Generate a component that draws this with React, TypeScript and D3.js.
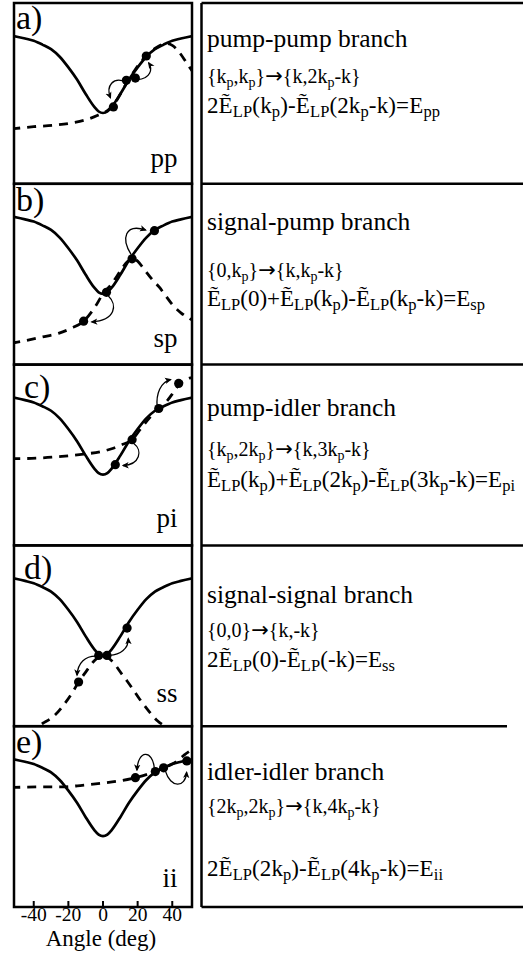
import React from 'react';
import * as d3 from 'd3';

// ---------- data ----------
const angleTicks = [-40, -20, 0, 20, 40];
const axisTitle = 'Angle (deg)';

// lower-polariton dispersion (solid curve), arbitrary energy units
const lpAngles = [-53, -45, -40, -35, -30, -25, -20, -15, -10, -5, -2.5, 0, 2.5, 5, 10, 15, 20, 25, 30, 35, 40, 45, 53];
const lpEnergy = [1.02, 0.98, 0.95, 0.9, 0.84, 0.74, 0.6, 0.44, 0.25, 0.08, 0.02, 0, 0.02, 0.08, 0.25, 0.44, 0.6, 0.74, 0.84, 0.9, 0.95, 0.98, 1.02];

// dashed (idler) curves, one per panel
const ppDashAngles = [-53, -40, -28, -18, -10, -3, 3, 8, 13, 18, 24, 30, 36.5, 40, 44, 48, 53];
const ppDashEnergy = [-0.21, -0.18, -0.16, -0.13, -0.09, -0.03, 0.04, 0.17, 0.37, 0.55, 0.73, 0.85, 0.915, 0.89, 0.8, 0.67, 0.5];
const spDashAngles = [-53, -47.8, -35.3, -25.7, -18, -11.2, -4.5, 0, 5, 10, 14, 17, 20, 23.5, 28, 32.4, 36, 40, 45, 49.5, 53];
const spDashEnergy = [-0.65, -0.63, -0.57, -0.52, -0.45, -0.36, -0.17, 0.0, 0.13, 0.3, 0.42, 0.46, 0.43, 0.33, 0.2, 0.09, -0.02, -0.14, -0.25, -0.32, -0.36];
const piDashAngles = [-53, -49.8, -35.3, -23.7, -11.2, -1.6, 5, 10.5, 16.8, 22, 27, 32.2, 37, 40.6, 43.7, 47, 50, 53];
const piDashEnergy = [0.21, 0.21, 0.22, 0.24, 0.27, 0.3, 0.34, 0.39, 0.46, 0.61, 0.75, 0.87, 0.97, 1.08, 1.18, 1.24, 1.27, 1.28];
const ssDashAngles = [-53, -40, -34.5, -28, -23, -18, -14.1, -10, -5, 0, 5, 11, 14, 18, 21, 26, 31.4, 40, 53];
const ssDashEnergy = [-1.0, -0.96, -0.89, -0.79, -0.66, -0.5, -0.35, -0.22, -0.07, 0, -0.07, -0.25, -0.34, -0.47, -0.57, -0.72, -0.86, -0.96, -1.0];
const iiDashAngles = [-53, -35, -23, -12, 0, 10, 18.7, 25, 30.2, 35, 40, 44, 47, 53];
const iiDashEnergy = [0.64, 0.65, 0.65, 0.67, 0.7, 0.73, 0.77, 0.81, 0.85, 0.9, 0.95, 1.01, 1.07, 1.16];

// polariton states (dots)
const ppDotAngles = [6.0, 13.5, 18.7, 25.0];
const ppDotEnergy = [0.08, 0.43, 0.46, 0.75];
const spDotAngles = [2.0, 16.8, 29.7, -11.2];
const spDotEnergy = [0.02, 0.46, 0.83, -0.36];
const piDotAngles = [7.1, 16.8, 32.2, 43.7];
const piDotEnergy = [0.13, 0.46, 0.87, 1.2];
const ssDotAngles = [-2.5, 2.3, 13.9, -14.1];
const ssDotEnergy = [0, 0, 0.36, -0.35];
const iiDotAngles = [18.7, 30.2, 35.0, 48.4];
const iiDotEnergy = [0.77, 0.85, 0.9, 0.99];

// scattering arrows: [angle, energy] for start, control 1, control 2, end
const ppArrows = [
  [[13.1, 0.41], [6, 0.48], [1.5, 0.36], [4.3, 0.2]],
  [[19.8, 0.44], [27.5, 0.45], [28.8, 0.58], [26.4, 0.66]],
];
const spArrows = [
  [[16.2, 0.52], [10.5, 0.72], [12.5, 0.93], [24.6, 0.84]],
  [[3.1, -0.03], [8.2, -0.14], [7.7, -0.35], [-6.5, -0.37]],
];
const piArrows = [
  [[17.8, 0.41], [23, 0.32], [21.5, 0.13], [11.6, 0.12]],
  [[31.3, 0.89], [30.5, 1.06], [33.3, 1.22], [39, 1.25]],
];
const ssArrows = [
  [[-4.2, -0.01], [-10, -0.01], [-14.5, -0.09], [-15, -0.26]],
  [[3.8, 0], [10, 0.01], [14.8, 0.09], [14.6, 0.22]],
];
const iiArrows = [
  [[29.6, 0.9], [28.6, 1.14], [20.2, 1.14], [19.6, 0.87]],
  [[36.0, 0.86], [39, 0.63], [47.6, 0.63], [48.3, 0.84]],
];

const panelLetters = ['a)', 'b)', 'c)', 'd)', 'e)'];
const panelCodes = ['pp', 'sp', 'pi', 'ss', 'ii'];
const branchTitles = ['pump-pump branch', 'signal-pump branch', 'pump-idler branch', 'signal-signal branch', 'idler-idler branch'];
const processLines = [
  '{k_{p},k_{p}}→{k,2k_{p}-k}',
  '{0,k_{p}}→{k,k_{p}-k}',
  '{k_{p},2k_{p}}→{k,3k_{p}-k}',
  '{0,0}→{k,-k}',
  '{2k_{p},2k_{p}}→{k,4k_{p}-k}',
];
const energyLines = [
  '2Ẽ_{LP}(k_{p})-Ẽ_{LP}(2k_{p}-k)=E_{pp}',
  'Ẽ_{LP}(0)+Ẽ_{LP}(k_{p})-Ẽ_{LP}(k_{p}-k)=E_{sp}',
  'Ẽ_{LP}(k_{p})+Ẽ_{LP}(2k_{p})-Ẽ_{LP}(3k_{p}-k)=E_{pi}',
  '2Ẽ_{LP}(0)-Ẽ_{LP}(-k)=E_{ss}',
  '2Ẽ_{LP}(2k_{p})-Ẽ_{LP}(4k_{p}-k)=E_{ii}',
];

// ---------- layout ----------
const W = 523;
const H = 956;
const LX0 = 14;
const LX1 = 192;
const RX0 = 201.5;
const TOP = 3;
const PH = 180.8;
const FONT = 'Liberation Serif, serif';
const ARROW_FONT = 'DejaVu Sans, sans-serif';
const letterPos = [[16, 29], [16, 210.5], [24, 397.5], [24, 578.5], [16, 753]];
const codeBase = [167, 346.5, 526.5, 701.5, 886.5];
const titleBase = [47, 230, 416, 602.5, 780];
const procBase = [83, 277, 455.5, 637, 813];
const energyBase = [113, 306, 486.5, 666.5, 876];
const energyWidth = [233, 278, 308, 188, 236];
const dividerEnd = [W, W, W, 507];

const panels = [
  { da: ppDashAngles, de: ppDashEnergy, pa: ppDotAngles, pe: ppDotEnergy, arrows: ppArrows },
  { da: spDashAngles, de: spDashEnergy, pa: spDotAngles, pe: spDotEnergy, arrows: spArrows },
  { da: piDashAngles, de: piDashEnergy, pa: piDotAngles, pe: piDotEnergy, arrows: piArrows },
  { da: ssDashAngles, de: ssDashEnergy, pa: ssDotAngles, pe: ssDotEnergy, arrows: ssArrows },
  { da: iiDashAngles, de: iiDashEnergy, pa: iiDotAngles, pe: iiDotEnergy, arrows: iiArrows },
];

type Seg = { t: string; kind: 'n' | 'sub' | 'sym' };

function parseRich(s: string): Seg[] {
  const out: Seg[] = [];
  let buf = '';
  let i = 0;
  const flush = () => {
    if (buf) out.push({ t: buf, kind: 'n' });
    buf = '';
  };
  while (i < s.length) {
    if (s[i] === '_' && s[i + 1] === '{') {
      flush();
      const j = s.indexOf('}', i + 2);
      out.push({ t: s.slice(i + 2, j), kind: 'sub' });
      i = j + 1;
    } else if (s[i] === '→') {
      flush();
      out.push({ t: '→', kind: 'sym' });
      i += 1;
    } else {
      buf += s[i];
      i += 1;
    }
  }
  flush();
  return out;
}

function Rich({ s, x, y, size, subSize, shift, width }: { s: string; x: number; y: number; size: number; subSize: number; shift: number; width?: number }) {
  const segs = parseRich(s);
  let prevSub = false;
  const extra = width ? { textLength: width, lengthAdjust: 'spacing' } : {};
  return (
    <text x={x} y={y} style={{ fontFamily: FONT }} fontSize={size} fill="#000" {...extra}>
      {segs.map((seg, k) => {
        const isSub = seg.kind === 'sub';
        let dy = 0;
        if (isSub && !prevSub) dy = shift;
        if (!isSub && prevSub) dy = -shift;
        prevSub = isSub;
        if (seg.kind === 'sym') {
          return (
            <tspan key={k} dy={dy} fontSize={size * 1.05} style={{ fontFamily: ARROW_FONT }}>
              {seg.t}
            </tspan>
          );
        }
        return (
          <tspan key={k} dy={dy} fontSize={isSub ? subSize : size}>
            {seg.t}
          </tspan>
        );
      })}
    </text>
  );
}

export default function App() {
  const x = d3.scaleLinear().domain([-51.4, 51.4]).range([LX0, LX1]);
  const ts = { fontFamily: FONT };

  return (
    <svg width={W} height={H} style={{ position: 'absolute', left: 0, top: 0, background: '#fff', fontFamily: FONT }}>
      <defs>
        <marker id="ah" viewBox="0 0 10 10" refX="8" refY="5" markerWidth="7" markerHeight="7" markerUnits="userSpaceOnUse" orient="auto">
          <path d="M0,0.5 L10,5 L0,9.5 L2.5,5 z" fill="#000" />
        </marker>
        {panels.map((_, i) => (
          <clipPath id={`clip${i}`} key={i}>
            <rect x={LX0} y={TOP + i * PH} width={LX1 - LX0} height={PH} />
          </clipPath>
        ))}
      </defs>
      <rect x={0} y={0} width={W} height={H} fill="#fff" />

      {panels.map((p, i) => {
        const top = TOP + i * PH;
        const y = d3.scaleLinear().domain([0, 1]).range([top + 110, top + 34]);
        const lp = d3
          .line<number>()
          .x((_, j) => x(lpAngles[j]))
          .y((d) => y(d))
          .curve(d3.curveMonotoneX)(lpEnergy);
        const dash = d3
          .line<number>()
          .x((_, j) => x(p.da[j]))
          .y((d) => y(d))
          .curve(d3.curveMonotoneX)(p.de);
        return (
          <g key={i}>
            <g clipPath={`url(#clip${i})`}>
              <path d={lp || ''} fill="none" stroke="#000" strokeWidth={2.7} />
              <path d={dash || ''} fill="none" stroke="#000" strokeWidth={2.8} strokeDasharray="9 7" />
              {p.arrows.map((a, k) => {
                const path = d3.path();
                path.moveTo(x(a[0][0]), y(a[0][1]));
                path.bezierCurveTo(x(a[1][0]), y(a[1][1]), x(a[2][0]), y(a[2][1]), x(a[3][0]), y(a[3][1]));
                return <path key={k} d={path.toString()} fill="none" stroke="#000" strokeWidth={1.3} markerEnd="url(#ah)" />;
              })}
              {p.pa.map((a, k) => (
                <circle key={k} cx={x(a)} cy={y(p.pe[k])} r={4.6} fill="#000" />
              ))}
            </g>
            <rect x={LX0} y={top} width={LX1 - LX0} height={PH} fill="none" stroke="#000" strokeWidth={2.5} />
            <text x={letterPos[i][0]} y={letterPos[i][1]} style={ts} fontSize={34} fill="#000">
              {panelLetters[i]}
            </text>
            <text x={177.5} y={codeBase[i]} style={ts} fontSize={27} textAnchor="end" fill="#000">
              {panelCodes[i]}
            </text>
            <text x={207} y={titleBase[i]} style={ts} fontSize={25.5} fill="#000">
              {branchTitles[i]}
            </text>
            <Rich s={processLines[i]} x={207} y={procBase[i]} size={20} subSize={14} shift={4} />
            <Rich s={energyLines[i]} x={207} y={energyBase[i]} size={23} subSize={16.5} shift={4} width={energyWidth[i]} />
          </g>
        );
      })}

      {/* right-hand frame */}
      <line x1={RX0} x2={W} y1={TOP} y2={TOP} stroke="#000" strokeWidth={2.5} />
      <line x1={RX0} x2={RX0} y1={TOP} y2={TOP + 5 * PH} stroke="#000" strokeWidth={2.5} />
      <line x1={RX0} x2={W} y1={TOP + 5 * PH} y2={TOP + 5 * PH} stroke="#000" strokeWidth={2.5} />
      {dividerEnd.map((xe, k) => (
        <line key={k} x1={RX0} x2={xe} y1={TOP + (k + 1) * PH} y2={TOP + (k + 1) * PH} stroke="#000" strokeWidth={2.5} />
      ))}

      {/* x axis */}
      {angleTicks.map((t) => (
        <g key={t}>
          <line x1={x(t)} x2={x(t)} y1={TOP + 5 * PH} y2={TOP + 5 * PH - 6} stroke="#000" strokeWidth={2} />
          <text x={x(t)} y={920.5} style={ts} fontSize={19.5} textAnchor="middle" fill="#000">
            {t}
          </text>
        </g>
      ))}
      <text x={101} y={945.5} style={ts} fontSize={23} textAnchor="middle" fill="#000">
        {axisTitle}
      </text>
    </svg>
  );
}
